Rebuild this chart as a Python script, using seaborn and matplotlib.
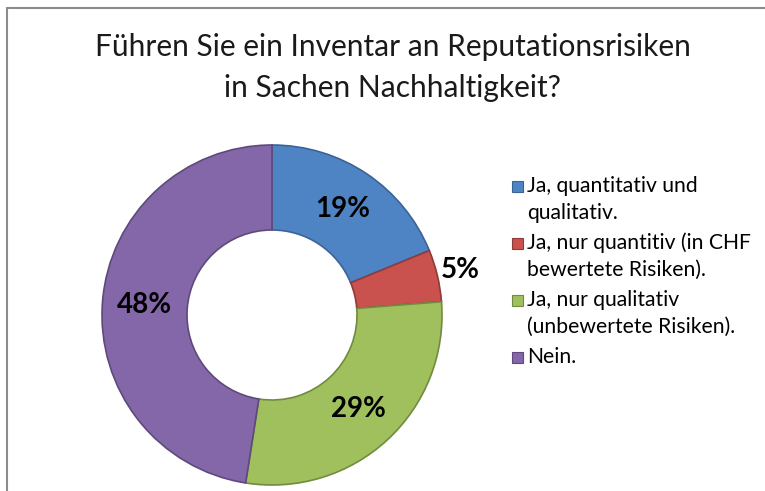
import numpy as np
import matplotlib
matplotlib.use('Agg')
import matplotlib.pyplot as plt
from matplotlib.patches import Rectangle
import seaborn as sns

title = 'Führen Sie ein Inventar an Reputationsrisiken\nin Sachen Nachhaltigkeit?'
categories = ['Ja, quantitativ und\nqualitativ.',
              'Ja, nur quantitiv (in CHF\nbewertete Risiken).',
              'Ja, nur qualitativ\n(unbewertete Risiken).',
              'Nein.']
values = [19, 5, 29, 48]
colors = ['#4F84C4', '#C9524F', '#9FC05C', '#8467A8']
edges = ['#3A6396', '#8E3B39', '#718B40', '#5E4A7A']

sns.set_theme(style='white')
plt.rcParams['font.family'] = ['Lato', 'DejaVu Sans']

W, H = 765, 491
fig = plt.figure(figsize=(W / 100, H / 100), dpi=100)
fig.patch.set_facecolor('white')

# grey chart frame (open to the right/bottom like the cropped screenshot)
fig.add_artist(plt.Line2D([7 / W, 7 / W], [0, 1 - 8 / H], color='#8c8c8c', lw=1.5,
                          transform=fig.transFigure))
fig.add_artist(plt.Line2D([7 / W, 1], [1 - 8 / H, 1 - 8 / H], color='#8c8c8c', lw=1.5,
                          transform=fig.transFigure))

cx, cy, r = 272, 315, 170
ax = fig.add_axes([(cx - r) / W, (H - cy - r) / H, 2 * r / W, 2 * r / H])
wedges, _ = ax.pie(values, colors=colors, startangle=90, counterclock=False,
                   wedgeprops=dict(width=0.5, linewidth=1.2))
for w, ec in zip(wedges, edges):
    w.set_edgecolor(ec)

# data labels
for w, v in zip(wedges, values):
    ang = np.deg2rad((w.theta1 + w.theta2) / 2)
    dist = 1.14 if v < 10 else 0.75
    ax.text(dist * np.cos(ang), dist * np.sin(ang), f'{v}%', ha='center', va='center',
            fontsize=20, fontweight='bold', color='black')
ax.set_xlim(-1, 1)
ax.set_ylim(-1, 1)
ax.set_aspect('equal')
ax.axis('off')

fig.text(393 / W, 1 - 47 / H, title.split('\n')[0], ha='center', va='center',
         fontsize=21.5, color='#1a1a1a')
fig.text(393 / W, 1 - 88 / H, title.split('\n')[1], ha='center', va='center',
         fontsize=21.5, color='#1a1a1a')

# legend
y = 186
for lab, c, ec in zip(categories, colors, edges):
    lines = lab.split('\n')
    fig.add_artist(Rectangle((512 / W, 1 - (y + 6) / H), 11 / W, 11 / H, facecolor=c,
                             edgecolor=ec, lw=0.8, transform=fig.transFigure))
    for i, ln in enumerate(lines):
        fig.text(527 / W, 1 - (y + 27 * i) / H, ln, ha='left', va='center',
                 fontsize=15.2, color='black')
    y += 27 * (len(lines) - 1) + 30

plt.savefig('out.png', dpi=100)
